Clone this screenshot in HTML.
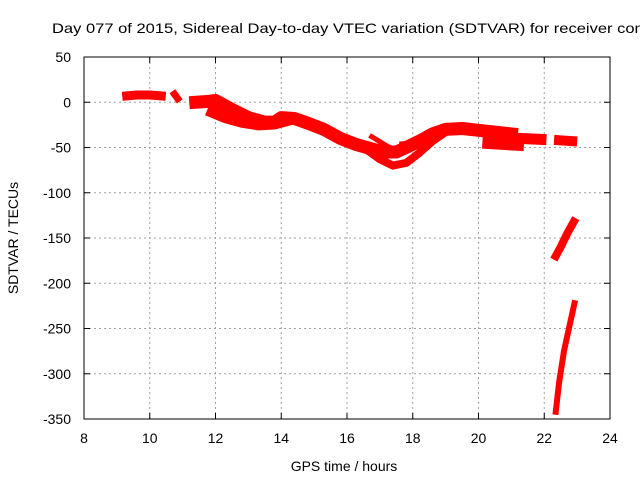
<!DOCTYPE html>
<html><head><meta charset="utf-8"><style>
body{margin:0;background:#fff;}
svg{display:block;font-family:"Liberation Sans",sans-serif;}
</style></head><body>
<svg id="chart" width="640" height="480">
<rect width="640" height="480" fill="#fff"/>
<text x="52" y="33" font-size="14" textLength="600" lengthAdjust="spacingAndGlyphs">Day 077 of 2015, Sidereal Day-to-day VTEC variation (SDTVAR) for receiver conz</text>
<g id="grid"></g>
<rect x="84" y="57" width="526" height="362" fill="none" stroke="#000" stroke-width="1"/>
<g id="ticks"></g>
<g id="marks"></g>
<text x="344" y="471" font-size="14" text-anchor="middle">GPS time / hours</text>
<text transform="translate(18,238) rotate(-90)" font-size="14" text-anchor="middle">SDTVAR / TECUs</text>
</svg>
<script>
const xTicks=[8,10,12,14,16,18,20,22,24];
const yTicks=[50,0,-50,-100,-150,-200,-250,-300,-350];
const segA=[[9.3,7],[9.6,8],[10.0,8],[10.35,7]];
const segB=[[10.75,9],[10.85,4]];
const upper=[[11.4,0],[11.8,1],[12.0,2],[12.5,-8],[13.0,-17],[13.5,-22],[13.8,-22],[14.0,-17],[14.4,-18],[14.8,-23],[15.3,-30],[15.8,-40],[16.3,-47],[16.8,-52],[17.2,-55],[17.5,-55],[17.8,-50],[18.2,-43],[18.6,-35],[19.0,-30],[19.5,-29],[20.0,-31],[20.5,-33],[21.0,-35]];
const lowerBand=[[11.9,-11],[12.3,-17],[12.8,-22],[13.3,-25],[13.8,-24],[14.2,-20]];
const loop=[[16.5,-50],[17.0,-63],[17.4,-70],[17.8,-67],[18.2,-56],[18.6,-43],[19.0,-33]];
const branch=[[16.75,-38],[17.2,-48],[17.6,-55]];
const seg47=[[17.7,-47],[18.3,-45]];
const blob1=[[20.3,-45],[21.2,-47]];
const blob2=[[21.3,-40],[21.9,-41]];
const blob3=[[22.45,-42],[22.85,-43]];
const dropUpper=[[22.35,-170],[22.5,-160],[22.7,-145],[22.9,-132]];
const dropLower=[[22.35,-342],[22.45,-310],[22.6,-275],[22.75,-250],[22.92,-222]];
const series=[[segA,9],[segB,7],[upper,13],[lowerBand,11],[loop,8],[branch,5],[seg47,7],[blob1,12],[blob2,11],[blob3,10],[dropUpper,8],[dropLower,6]];
const X=h=>84+(h-8)*526/16;
const Y=v=>57+(50-v)*362/400;
const NS="http://www.w3.org/2000/svg";
const grid=document.getElementById('grid'),ticks=document.getElementById('ticks'),marks=document.getElementById('marks');
function mk(tag,at,parent){const e=document.createElementNS(NS,tag);for(const k in at)e.setAttribute(k,at[k]);parent.appendChild(e);return e;}
xTicks.forEach(t=>{const x=X(t);
 if(t>8&&t<24){const g=mk('line',{x1:x,x2:x,y1:57,y2:419,stroke:'#a0a0a0','stroke-dasharray':'2,3'},grid);
 
 }
 mk('line',{x1:x,x2:x,y1:419,y2:413,stroke:'#000'},ticks);mk('line',{x1:x,x2:x,y1:57,y2:63,stroke:'#000'},ticks);
 const l=mk('text',{x:x,y:443,'font-size':14,'text-anchor':'middle'},ticks);l.textContent=t;
 
 });
yTicks.forEach(t=>{const y=Y(t);
 if(t<50&&t>-350){const g=mk('line',{x1:84,x2:610,y1:y,y2:y,stroke:'#a0a0a0','stroke-dasharray':'2,3'},grid);
 
 }
 mk('line',{x1:84,x2:90,y1:y,y2:y,stroke:'#000'},ticks);mk('line',{x1:610,x2:604,y1:y,y2:y,stroke:'#000'},ticks);
 const l=mk('text',{x:71,y:y+5,'font-size':14,'text-anchor':'end'},ticks);l.textContent=t;
 
 });
series.forEach(([pts,w],i)=>{
 const p=mk('polyline',{points:pts.map(d=>X(d[0])+','+Y(d[1])).join(' '),fill:'none',stroke:'#ff0000','stroke-width':w,'stroke-linejoin':'round','stroke-linecap':'square'},marks);
 
 
});
</script>
</body></html>
